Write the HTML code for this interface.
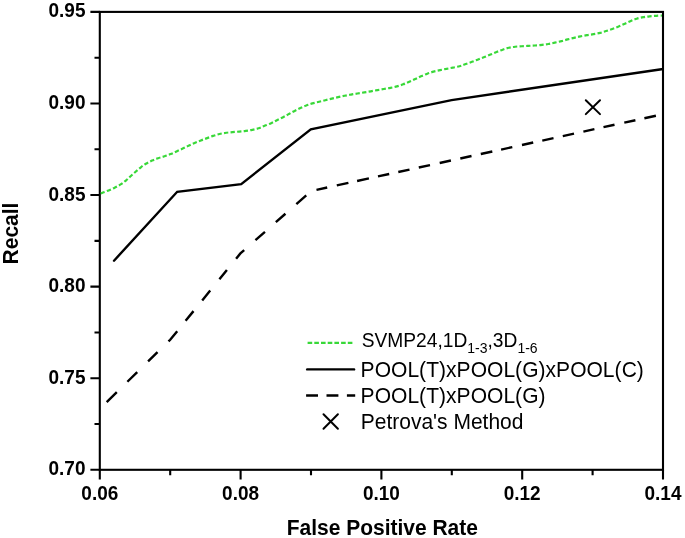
<!DOCTYPE html>
<html><head><meta charset="utf-8"><style>
html,body{margin:0;padding:0;background:#fff;}
body{width:685px;height:538px;overflow:hidden;}
svg{display:block;will-change:transform;}
text{font-family:"Liberation Sans",sans-serif;fill:#000;}
</style></head><body>
<svg width="685" height="538" viewBox="0 0 685 538">
<rect x="0" y="0" width="685" height="538" fill="#fff"/>

<rect x="99.8" y="11.9" width="563.20" height="457.90" fill="none" stroke="#000" stroke-width="2.1"/>
<path d="M90.4 11.90 L99.8 11.90 M94.5 57.69 L99.8 57.69 M90.4 103.48 L99.8 103.48 M94.5 149.27 L99.8 149.27 M90.4 195.06 L99.8 195.06 M94.5 240.85 L99.8 240.85 M90.4 286.64 L99.8 286.64 M94.5 332.43 L99.8 332.43 M90.4 378.22 L99.8 378.22 M94.5 424.01 L99.8 424.01 M90.4 469.80 L99.8 469.80 M99.80 469.8 L99.80 479.4 M170.20 469.8 L170.20 475.2 M240.60 469.8 L240.60 479.4 M311.00 469.8 L311.00 475.2 M381.40 469.8 L381.40 479.4 M451.80 469.8 L451.80 475.2 M522.20 469.8 L522.20 479.4 M592.60 469.8 L592.60 475.2 M663.00 469.8 L663.00 479.4" stroke="#000" stroke-width="2.1" fill="none"/>
<text transform="translate(85.50,17.40) scale(1,1.04)" font-size="19" font-weight="bold" text-anchor="end">0.95</text>
<text transform="translate(85.50,108.98) scale(1,1.04)" font-size="19" font-weight="bold" text-anchor="end">0.90</text>
<text transform="translate(85.50,200.56) scale(1,1.04)" font-size="19" font-weight="bold" text-anchor="end">0.85</text>
<text transform="translate(85.50,292.14) scale(1,1.04)" font-size="19" font-weight="bold" text-anchor="end">0.80</text>
<text transform="translate(85.50,383.72) scale(1,1.04)" font-size="19" font-weight="bold" text-anchor="end">0.75</text>
<text transform="translate(85.50,475.30) scale(1,1.04)" font-size="19" font-weight="bold" text-anchor="end">0.70</text>
<text transform="translate(99.80,499.70) scale(1,1.04)" font-size="19" font-weight="bold" text-anchor="middle">0.06</text>
<text transform="translate(240.60,499.70) scale(1,1.04)" font-size="19" font-weight="bold" text-anchor="middle">0.08</text>
<text transform="translate(381.40,499.70) scale(1,1.04)" font-size="19" font-weight="bold" text-anchor="middle">0.10</text>
<text transform="translate(522.20,499.70) scale(1,1.04)" font-size="19" font-weight="bold" text-anchor="middle">0.12</text>
<text transform="translate(663.00,499.70) scale(1,1.04)" font-size="19" font-weight="bold" text-anchor="middle">0.14</text>
<text transform="translate(382.30,534.70) scale(1,1.04)" font-size="21" font-weight="bold" text-anchor="middle">False Positive Rate</text>
<text transform="translate(18.3,233.5) rotate(-90) scale(1,1.04)" text-anchor="middle" font-size="21" font-weight="bold">Recall</text>
<path d="M99.80 194.10 C100.33 193.84 101.53 193.17 103.00 192.55 C104.47 191.93 106.67 191.21 108.60 190.40 C110.53 189.59 112.60 188.67 114.60 187.68 C116.60 186.68 118.72 185.61 120.60 184.43 C122.48 183.24 124.23 181.92 125.90 180.55 C127.57 179.18 128.98 177.67 130.60 176.20 C132.22 174.73 133.93 173.20 135.60 171.75 C137.27 170.30 138.88 168.86 140.60 167.53 C142.32 166.19 144.00 164.88 145.90 163.73 C147.80 162.57 149.97 161.49 152.00 160.58 C154.03 159.66 156.00 158.94 158.10 158.22 C160.20 157.51 162.52 156.99 164.60 156.30 C166.68 155.61 168.62 154.91 170.60 154.10 C172.58 153.29 174.48 152.35 176.50 151.43 C178.52 150.50 180.70 149.52 182.70 148.57 C184.70 147.62 186.52 146.66 188.50 145.72 C190.48 144.79 192.55 143.85 194.60 142.97 C196.65 142.10 198.72 141.26 200.80 140.45 C202.88 139.64 205.03 138.88 207.10 138.12 C209.17 137.37 211.13 136.59 213.20 135.90 C215.27 135.21 217.33 134.50 219.50 133.97 C221.67 133.45 224.02 133.06 226.20 132.75 C228.38 132.44 230.42 132.30 232.60 132.10 C234.78 131.90 237.10 131.76 239.30 131.55 C241.50 131.34 243.63 131.14 245.80 130.85 C247.97 130.56 250.17 130.25 252.30 129.82 C254.43 129.40 256.63 128.91 258.60 128.28 C260.57 127.64 262.02 126.87 264.10 126.03 C266.18 125.18 268.97 124.18 271.10 123.22 C273.23 122.27 274.90 121.28 276.90 120.27 C278.90 119.27 281.10 118.24 283.10 117.20 C285.10 116.16 286.98 115.06 288.90 114.01 C290.82 112.97 292.68 111.92 294.60 110.92 C296.52 109.93 298.45 108.95 300.40 108.04 C302.35 107.12 304.30 106.20 306.30 105.43 C308.30 104.65 310.27 103.98 312.40 103.38 C314.53 102.77 316.95 102.33 319.10 101.80 C321.25 101.27 323.18 100.73 325.30 100.20 C327.42 99.67 329.67 99.12 331.80 98.60 C333.93 98.08 335.97 97.58 338.10 97.10 C340.23 96.62 342.45 96.15 344.60 95.72 C346.75 95.30 348.87 94.93 351.00 94.56 C353.13 94.19 355.18 93.85 357.40 93.50 C359.62 93.15 362.05 92.80 364.30 92.44 C366.55 92.07 368.73 91.69 370.90 91.30 C373.07 90.91 375.15 90.51 377.30 90.12 C379.45 89.74 381.60 89.38 383.80 89.00 C386.00 88.62 388.32 88.28 390.50 87.85 C392.68 87.42 394.80 86.99 396.90 86.40 C399.00 85.81 401.03 85.10 403.10 84.33 C405.17 83.55 407.28 82.61 409.30 81.72 C411.32 80.84 413.27 79.93 415.20 79.03 C417.13 78.12 418.88 77.19 420.90 76.30 C422.92 75.41 425.20 74.47 427.30 73.70 C429.40 72.93 431.37 72.27 433.50 71.67 C435.63 71.08 437.92 70.63 440.10 70.15 C442.28 69.67 444.45 69.23 446.60 68.80 C448.75 68.37 450.85 68.00 453.00 67.58 C455.15 67.15 457.48 66.80 459.50 66.25 C461.52 65.70 463.02 65.04 465.10 64.30 C467.18 63.56 469.82 62.64 472.00 61.83 C474.18 61.01 476.13 60.20 478.20 59.40 C480.27 58.60 482.35 57.85 484.40 57.05 C486.45 56.25 488.48 55.41 490.50 54.58 C492.52 53.74 494.48 52.87 496.50 52.05 C498.52 51.23 500.55 50.38 502.60 49.67 C504.65 48.97 506.72 48.29 508.80 47.80 C510.88 47.31 512.92 46.99 515.10 46.72 C517.28 46.46 519.68 46.37 521.90 46.23 C524.12 46.08 526.25 46.00 528.40 45.88 C530.55 45.75 532.53 45.64 534.80 45.48 C537.07 45.31 539.73 45.15 542.00 44.90 C544.27 44.65 546.27 44.37 548.40 44.00 C550.53 43.63 552.62 43.18 554.80 42.70 C556.98 42.22 559.37 41.65 561.50 41.10 C563.63 40.55 565.50 39.97 567.60 39.42 C569.70 38.88 571.98 38.34 574.10 37.83 C576.22 37.31 578.17 36.79 580.30 36.35 C582.43 35.91 584.70 35.53 586.90 35.17 C589.10 34.82 591.28 34.59 593.50 34.20 C595.72 33.81 598.10 33.38 600.20 32.85 C602.30 32.32 604.08 31.68 606.10 31.02 C608.12 30.37 610.20 29.68 612.30 28.93 C614.40 28.17 616.62 27.34 618.70 26.47 C620.78 25.61 622.78 24.65 624.80 23.74 C626.82 22.82 628.82 21.83 630.80 20.99 C632.78 20.15 634.62 19.32 636.70 18.69 C638.78 18.05 641.15 17.56 643.30 17.16 C645.45 16.76 647.43 16.52 649.60 16.30 C651.77 16.08 654.23 15.96 656.30 15.82 C658.37 15.69 661.05 15.55 662.00 15.50" stroke="#38d838" stroke-width="2.2" fill="none" stroke-dasharray="4.3 2.3" stroke-dashoffset="-1.2"/>
<path d="M114.00 260.70 L177.20 191.80 L241.20 184.10 L310.80 129.30 L451.60 100.10 L661.50 69.20" stroke="#000" stroke-width="2.4" fill="none" stroke-linejoin="miter" stroke-linecap="round"/>
<path d="M106.69 402.02 L116.81 392.11 M127.39 381.74 L137.21 372.12 M148.09 361.46 L157.51 352.23 M168.50 341.47 L170.20 339.80 L177.20 331.18 M185.60 320.85 L193.50 311.12 M202.20 300.42 L210.20 290.57 M219.40 279.25 L226.90 270.02 M236.10 258.69 L240.40 253.40 L244.20 250.06 M255.45 240.15 L264.95 231.80 M275.85 222.20 L285.45 213.75 M296.35 204.16 L306.25 195.45 M316.49 189.87 L327.21 187.53 M336.79 185.43 L348.41 182.90 M357.09 181.00 L368.91 178.42 M377.99 176.44 L389.21 173.99 M398.29 172.00 L409.51 169.55 M418.79 167.53 L430.01 165.08 M439.69 162.96 L450.91 160.51 M460.29 158.47 L471.51 156.01 M480.79 153.99 L492.31 151.47 M501.09 149.56 L512.31 147.11 M521.99 144.99 L533.21 142.54 M542.29 140.56 L553.51 138.11 M562.79 136.08 L574.01 133.63 M583.39 131.58 L594.41 129.18 M603.49 127.20 L614.51 124.79 M624.29 122.65 L635.41 120.22 M644.39 118.26 L655.91 115.75" stroke="#000" stroke-width="2.4" fill="none"/>
<path d="M585.80 100.30 L600.00 114.10 M585.80 114.10 L600.00 100.30" stroke="#000" stroke-width="2" fill="none" stroke-linecap="round"/>
<path d="M307.6 342.9 L353.2 342.9" stroke="#38d838" stroke-width="2.2" stroke-dasharray="4.6 2.1" fill="none"/>
<path d="M307.2 369.4 L354.1 369.4" stroke="#000" stroke-width="2.4" fill="none" stroke-linecap="round"/>
<path d="M306.1 395.5 L355.2 395.5" stroke="#000" stroke-width="2.4" stroke-dasharray="11.9 8.5" fill="none"/>
<path d="M323.50 414.30 L337.90 428.70 M323.50 428.70 L337.90 414.30" stroke="#000" stroke-width="2" fill="none" stroke-linecap="round"/>
<text transform="translate(361.70,346.90) scale(1,1.04)" font-size="19.2">SVMP24,1D<tspan font-size="14" dy="6.1">1-3</tspan><tspan dy="-6.1">,3D</tspan><tspan font-size="14" dy="6.1">1-6</tspan></text>
<text transform="translate(360.60,376.80) scale(1,1.04)" font-size="21" letter-spacing="0.05">POOL(T)xPOOL(G)xPOOL(C)</text>
<text transform="translate(360.60,403.00) scale(1,1.04)" font-size="21" letter-spacing="0.05">POOL(T)xPOOL(G)</text>
<text transform="translate(360.80,429.00) scale(1,1.04)" font-size="21">Petrova's Method</text>
</svg></body></html>
